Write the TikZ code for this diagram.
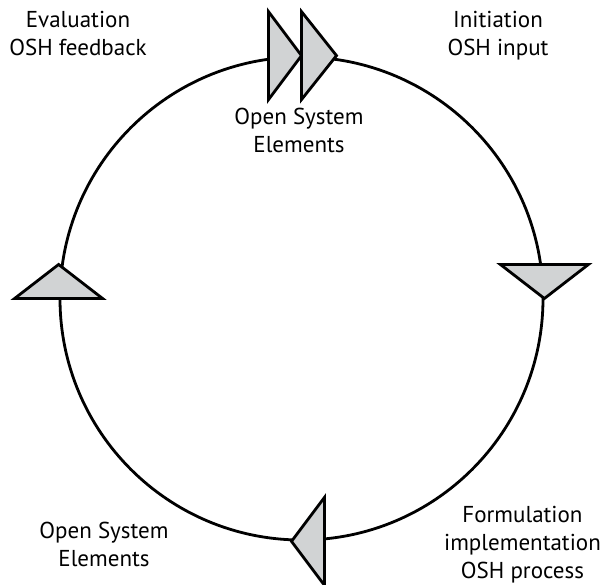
\documentclass[tikz,border=0pt]{standalone}
\usepackage{fontspec}
\setmainfont{PT Sans}
\usepackage{tikz}
\usetikzlibrary{positioning}
\usetikzlibrary{calc}

\definecolor{markgray}{RGB}{209,211,212}

\begin{document}
\begin{tikzpicture}[x=1pt, y=-1pt, line width=2.8pt,
  label/.style={align=center, font=\fontsize{23}{28}\selectfont, inner sep=0pt},
  marker/.style={draw, fill=markgray, line join=miter}]
  \useasboundingbox (0,0) rectangle (603,585);

  \node[circle, draw, minimum size=483pt, inner sep=0pt] (loop) at (301.5,298.5) {};

  % markers along the loop
  \draw[marker] (loop.north) -- ++(-33,-44) -- ++(0,88) -- cycle;
  \draw[marker] ($(loop.north)+(35,0)$) -- ++(-35,-44) -- ++(0,88) -- cycle;
  \draw[marker] (loop.east) -- ++(-44,-34) -- ++(88,0) -- cycle;
  \draw[marker] ($(loop.south)+(-10,0)$) -- ++(33,-44) -- ++(0,88) -- cycle;
  \draw[marker] (loop.west) -- ++(-44,0) -- ++(44,-34) -- ++(44,34) -- cycle;

  \node[label] (eval) at (78,33) {Evaluation\\OSH feedback};
  \node[label] (init) at (498,35.5) {Initiation\\OSH input};
  \node[label] (opentop) at (299,130) {Open System\\Elements};
  \node[label] (openbot) at (104,544) {Open System\\Elements};
  \node[label] (form) at (522.5,544.5) {Formulation\\implementation\\OSH process};
\end{tikzpicture}
\end{document}
